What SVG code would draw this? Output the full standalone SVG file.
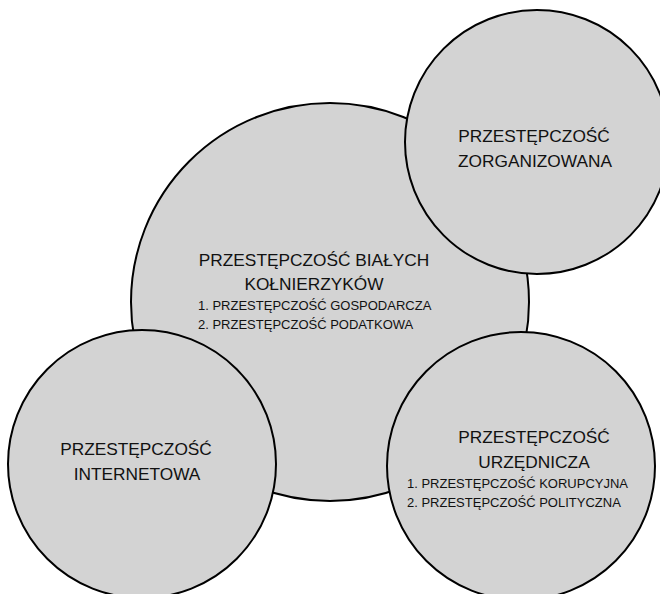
<svg xmlns="http://www.w3.org/2000/svg" width="660" height="594" viewBox="0 0 660 594">
<style>
  .c { fill: #d3d3d3; stroke: #000; stroke-width: 2; }
  .t { font-family: "Liberation Sans", Arial, sans-serif; fill: #111; }
  .big { font-size: 17.3px; text-anchor: middle; }
  .small { font-size: 13px; }
</style>
<rect width="660" height="594" fill="#fff"/>
<g id="connectors"></g>
<g id="node-bialych">
  <circle class="c" cx="330" cy="302" r="199"/>
  <text class="t big" x="314" y="266">PRZESTĘPCZOŚĆ BIAŁYCH</text>
  <text class="t big" x="314" y="290">KOŁNIERZYKÓW</text>
  <text class="t small" x="198" y="310">1. PRZESTĘPCZOŚĆ GOSPODARCZA</text>
  <text class="t small" x="198" y="329">2. PRZESTĘPCZOŚĆ PODATKOWA</text>
</g>
<g id="node-zorganizowana">
  <circle class="c" cx="537" cy="142" r="132"/>
  <text class="t big" x="534" y="142">PRZESTĘPCZOŚĆ</text>
  <text class="t big" x="535" y="167">ZORGANIZOWANA</text>
</g>
<g id="node-internetowa">
  <circle class="c" cx="142" cy="464" r="134"/>
  <text class="t big" x="136" y="455">PRZESTĘPCZOŚĆ</text>
  <text class="t big" x="137" y="480">INTERNETOWA</text>
</g>
<g id="node-urzednicza">
  <circle class="c" cx="521" cy="466" r="134"/>
  <text class="t big" x="534" y="443">PRZESTĘPCZOŚĆ</text>
  <text class="t big" x="534" y="468">URZĘDNICZA</text>
  <text class="t small" x="407" y="488">1. PRZESTĘPCZOŚĆ KORUPCYJNA</text>
  <text class="t small" x="407" y="507">2. PRZESTĘPCZOŚĆ POLITYCZNA</text>
</g>
</svg>
